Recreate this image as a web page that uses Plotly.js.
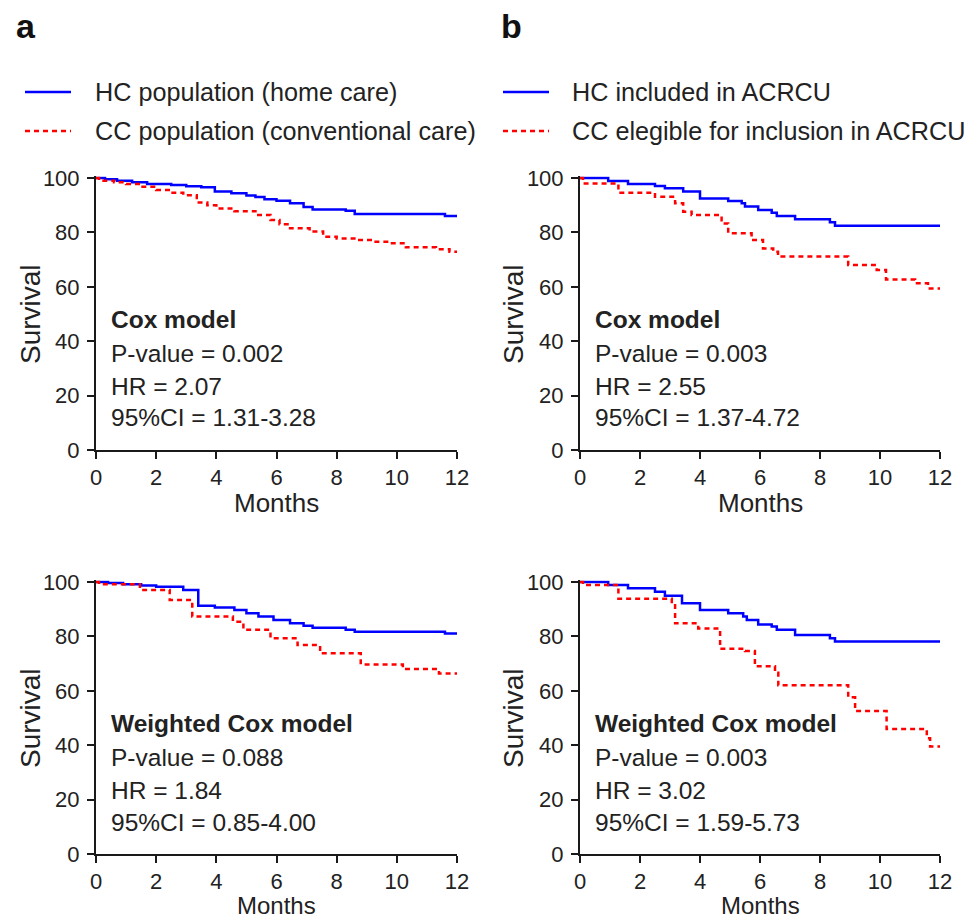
<!DOCTYPE html>
<html>
<head>
<meta charset="utf-8">
<script src="https://cdn.plot.ly/plotly-3.0.1.min.js"></script>
<style>html,body{margin:0;padding:0;background:#fff;}#chart{width:971px;height:919px;}</style>
</head>
<body>
<div id="chart"></div>
<script>
// ---------- DATA ----------
// Panel a, Cox model (top-left)
const aTopHcT = [0, 0.3, 0.7, 1.2, 1.7, 2.5, 3.0, 3.5, 3.95, 4.5, 5.0, 5.3, 5.6, 6.0, 6.45, 6.9, 7.2, 8.3, 8.6, 11.6, 12];
const aTopHcS = [100, 99.5, 99.0, 98.4, 97.8, 97.4, 97.0, 96.6, 95.0, 94.4, 93.6, 93.0, 92.2, 91.6, 90.7, 89.3, 88.4, 88.0, 86.8, 86.0, 86.0];
const aTopCcT = [0, 0.1, 0.6, 1.0, 1.5, 2.0, 2.5, 2.9, 3.35, 3.7, 4.0, 4.6, 5.3, 5.8, 6.1, 6.45, 7.1, 7.55, 8.0, 8.65, 9.2, 9.75, 10.3, 11.3, 11.75, 12];
const aTopCcS = [100, 99.0, 98.4, 97.8, 96.8, 95.6, 94.6, 93.7, 91.0, 90.0, 88.8, 87.8, 86.4, 84.6, 83.0, 81.5, 80.3, 78.4, 77.8, 77.2, 76.6, 76.0, 74.5, 73.8, 72.9, 72.9];
// Panel b, Cox model (top-right)
const bTopHcT = [0, 0.94, 1.6, 2.5, 2.83, 3.44, 4.0, 4.94, 5.39, 5.5, 5.94, 6.39, 6.56, 7.17, 8.33, 8.5, 12];
const bTopHcS = [100, 98.9, 97.8, 97.1, 96.2, 95.0, 92.5, 91.5, 90.7, 89.5, 88.2, 87.2, 86.0, 84.8, 83.7, 82.4, 82.4];
const bTopCcT = [0, 0.1, 1.28, 2.5, 3.17, 3.44, 3.72, 4.72, 4.94, 5.72, 6.1, 6.44, 6.6, 8.94, 9.89, 10.2, 11.17, 11.6, 12];
const bTopCcS = [100, 98.0, 94.6, 93.1, 90.7, 87.6, 86.4, 83.3, 79.7, 77.2, 74.1, 72.9, 71.1, 68.0, 66.2, 62.7, 61.3, 59.4, 59.4];
// Panel a, Weighted Cox model (bottom-left)
const aBotHcT = [0, 0.4, 0.9, 1.5, 2.0, 2.9, 3.4, 3.95, 4.6, 5.0, 5.4, 5.9, 6.45, 6.9, 7.2, 8.3, 8.6, 11.6, 12];
const aBotHcS = [100, 99.6, 99.2, 98.7, 98.3, 97.1, 91.3, 90.6, 89.7, 88.5, 87.3, 86.0, 84.8, 83.9, 83.2, 82.4, 81.7, 81.1, 81.1];
const aBotCcT = [0, 0.1, 1.46, 2.45, 3.2, 4.55, 4.9, 5.8, 6.7, 7.45, 8.8, 10.2, 11.4, 12];
const aBotCcS = [100, 99.2, 97.1, 93.4, 87.3, 85.4, 82.4, 79.3, 76.8, 73.8, 69.7, 68.0, 66.4, 66.4];
// Panel b, Weighted Cox model (bottom-right)
const bBotHcT = [0, 0.94, 1.6, 2.5, 2.83, 3.4, 4.0, 4.94, 5.44, 5.56, 5.94, 6.39, 6.56, 7.17, 8.33, 8.5, 12];
const bBotHcS = [100, 98.9, 97.7, 96.4, 94.9, 92.2, 89.7, 88.5, 87.3, 86.0, 84.4, 83.6, 82.4, 80.5, 79.3, 78.1, 78.1];
const bBotCcT = [0, 0.1, 1.28, 3.06, 3.17, 3.94, 4.67, 5.5, 5.83, 6.5, 6.61, 8.94, 9.17, 10.22, 11.56, 11.67, 12];
const bBotCcS = [100, 98.9, 93.8, 92.2, 84.8, 82.9, 75.5, 74.6, 69.0, 66.6, 62.0, 57.6, 52.6, 46.0, 42.6, 39.5, 39.5];

const legendA = ["HC population (home care)", "CC population (conventional care)"];
const legendB = ["HC included in ACRCU", "CC elegible for inclusion in ACRCU"];
const statsATop = ["Cox model", "P-value = 0.002", "HR = 2.07", "95%CI = 1.31-3.28"];
const statsBTop = ["Cox model", "P-value = 0.003", "HR = 2.55", "95%CI = 1.37-4.72"];
const statsABot = ["Weighted Cox model", "P-value = 0.088", "HR = 1.84", "95%CI = 0.85-4.00"];
const statsBBot = ["Weighted Cox model", "P-value = 0.003", "HR = 3.02", "95%CI = 1.59-5.73"];
const xTicks = [0, 2, 4, 6, 8, 10, 12];
const yTicks = [0, 20, 40, 60, 80, 100];
const xTitle = "Months";
const yTitle = "Survival";

// ---------- LAYOUT ----------
const W = 971, H = 919;
const FONT = "Liberation Sans, Arial, Helvetica, sans-serif";
const BLUE = "rgb(0,0,255)";
const RED = "rgb(255,0,0)";
const DASH = "5px,4px";
const px = x => x / W;
const py = y => 1 - y / H;

function hc(x, y, xa, ya) {
  return {x: x, y: y, xaxis: xa, yaxis: ya, type: "scatter", mode: "lines",
    line: {color: BLUE, width: 2.5, shape: "hv"}, showlegend: false, hoverinfo: "skip"};
}
function cc(x, y, xa, ya) {
  return {x: x, y: y, xaxis: xa, yaxis: ya, type: "scatter", mode: "lines",
    line: {color: RED, width: 2.5, shape: "hv", dash: DASH}, showlegend: false, hoverinfo: "skip"};
}

const data = [
  hc(aTopHcT, aTopHcS, "x", "y"), cc(aTopCcT, aTopCcS, "x", "y"),
  hc(bTopHcT, bTopHcS, "x2", "y2"), cc(bTopCcT, bTopCcS, "x2", "y2"),
  hc(aBotHcT, aBotHcS, "x3", "y3"), cc(aBotCcT, aBotCcS, "x3", "y3"),
  hc(bBotHcT, bBotHcS, "x4", "y4"), cc(bBotCcT, bBotCcS, "x4", "y4")
];

const YMAX = 100.6;
const pxPerUnit = 272 / 100;
const TICKFONT = {size: 22, color: "#222", family: FONT};
function xax(x0, x1, anchor) {
  return {domain: [px(x0), px(x1)], anchor: anchor, range: [0, 12], tickvals: xTicks,
    ticktext: xTicks.map(String), showgrid: false, zeroline: false, showline: true,
    linecolor: "#1a1a1a", linewidth: 2, ticks: "outside", ticklen: 7, tickwidth: 2,
    tickcolor: "#1a1a1a", tickfont: TICKFONT, fixedrange: true};
}
function yax(y0, y100, anchor) {
  const yTop = y100 - (YMAX - 100) * pxPerUnit;
  return {domain: [py(y0), py(yTop)], anchor: anchor, range: [0, YMAX], tickvals: yTicks,
    ticktext: yTicks.map(String), showgrid: false, zeroline: false, showline: true,
    linecolor: "#1a1a1a", linewidth: 2, ticks: "outside", ticklen: 7, tickwidth: 2,
    tickcolor: "#1a1a1a", tickfont: TICKFONT,
    ticklabelstandoff: 3, fixedrange: true};
}

const annotations = [];
function ann(text, x, y, opts) {
  annotations.push(Object.assign({text: text, x: px(x), y: py(y), xref: "paper", yref: "paper",
    showarrow: false, xanchor: "left", yanchor: "middle", borderpad: 0,
    font: {size: 24.5, color: "#222", family: FONT}}, opts || {}));
}
// panel letters
ann("<b>a</b>", 26, 26, {xanchor: "center", font: {size: 34, color: "#111", family: FONT}});
ann("<b>b</b>", 511, 26, {xanchor: "center", font: {size: 34, color: "#111", family: FONT}});
// legends
const shapes = [];
function legend(x0, textX, labels) {
  const rows = [92, 131];
  shapes.push({type: "line", xref: "paper", yref: "paper", x0: px(x0), x1: px(x0 + 46),
    y0: py(rows[0]), y1: py(rows[0]), line: {color: BLUE, width: 2.5}});
  shapes.push({type: "line", xref: "paper", yref: "paper", x0: px(x0), x1: px(x0 + 46),
    y0: py(rows[1]), y1: py(rows[1]), line: {color: RED, width: 2.5, dash: DASH}});
  ann(labels[0], textX, rows[0], {font: {size: 25.2, color: "#222", family: FONT}});
  ann(labels[1], textX, rows[1], {font: {size: 25.2, color: "#222", family: FONT}});
}
legend(25, 94, legendA);
legend(503, 571, legendB);
// stats blocks
function stats(lines, x, yFirst) {
  const gaps = [0, 34, 67, 99];
  lines.forEach((t, i) => ann(i === 0 ? "<b>" + t + "</b>" : t, x, yFirst + gaps[i]));
}
stats(statsATop, 110, 319);
stats(statsBTop, 594, 319);
stats(statsABot, 110, 723);
stats(statsBBot, 594, 723);
// axis titles
[[30, 314], [513, 314], [30, 718], [513, 718]].forEach(p =>
  ann(yTitle, p[0], p[1], {xanchor: "center", textangle: -90, font: {size: 28, color: "#222", family: FONT}}));
[[276, 503], [760, 503]].forEach(p =>
  ann(xTitle, p[0], p[1], {xanchor: "center", font: {size: 26, color: "#222", family: FONT}}));
[[276, 920], [760, 920]].forEach(p =>
  ann(xTitle, p[0], p[1], {xanchor: "center", yanchor: "bottom", font: {size: 24, color: "#222", family: FONT}}));

const layout = {
  width: W, height: H, margin: {l: 0, r: 0, t: 0, b: 0},
  paper_bgcolor: "#fff", plot_bgcolor: "#fff", showlegend: false,
  font: {family: FONT, color: "#222"},
  xaxis: xax(96, 457, "y"), yaxis: yax(450, 178, "x"),
  xaxis2: xax(580, 940, "y2"), yaxis2: yax(450, 178, "x2"),
  xaxis3: xax(96, 457, "y3"), yaxis3: yax(854, 582, "x3"),
  xaxis4: xax(580, 940, "y4"), yaxis4: yax(854, 582, "x4"),
  annotations: annotations, shapes: shapes
};
Plotly.newPlot("chart", data, layout, {staticPlot: true, displayModeBar: false});
</script>
</body>
</html>
